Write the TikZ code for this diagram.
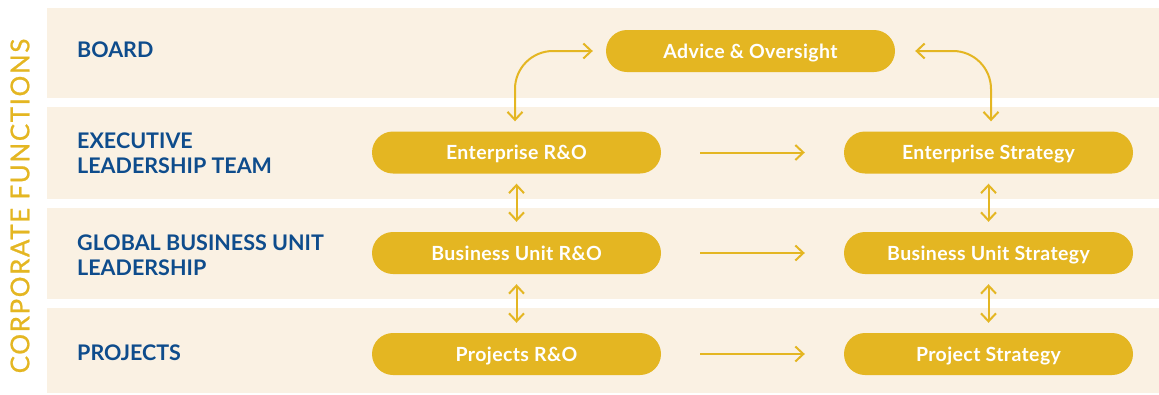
\documentclass[tikz,border=0pt]{standalone}
\usepackage{fontspec}
\setmainfont{Lato}
\usetikzlibrary{positioning, arrows.meta}

\definecolor{goldPill}{HTML}{E4B622}
\definecolor{creamBand}{HTML}{FAF1E3}
\definecolor{blueLabel}{HTML}{0E4C8C}

\begin{document}
\begin{tikzpicture}[
        x=1pt, y=-1pt,
        every node/.style={font=\bfseries},
        % Gold rounded boxes
        pill/.style={fill=goldPill, rounded corners=21pt, minimum width=289pt,
            minimum height=42pt, inner sep=0pt, text=white,
            text height=14pt, text depth=0pt,
            font=\bfseries\fontsize{19.5}{22}\selectfont\addfontfeatures{LetterSpace=2}},
        % Row titles on the left
        level/.style={text=blueLabel, anchor=west, align=left, inner sep=0pt,
            font=\bfseries\fontsize{21.5}{25}\selectfont},
        link/.style={draw=goldPill, line width=2pt,
            arrows={Straight Barb[length=8pt,width=15pt]-Straight Barb[length=8pt,width=15pt]}},
        flow/.style={draw=goldPill, line width=2pt,
            -{Straight Barb[length=8pt,width=15pt]}}
    ]
        % Column and row positions (in px of the reference)
        \def\leftX{516.5}
        \def\midX{750.5}
        \def\rightX{988.5}
        \def\rowA{51}
        \def\rowB{152.5}
        \def\rowC{253}
        \def\rowD{354}

        \useasboundingbox (0,0) rectangle (1159,394);

        % Background bands
        \fill[creamBand] (47,8) rectangle (1159,98);
        \fill[creamBand] (47,107) rectangle (1159,199);
        \fill[creamBand] (47,208) rectangle (1159,299);
        \fill[creamBand] (47,308) rectangle (1159,393);

        % Side title
        \node[rotate=90, text=goldPill, inner sep=0pt,
            font=\fontsize{26}{30}\selectfont\addfontfeatures{LetterSpace=6,FakeBold=0.8}]
            (corpTitle) at (20,206) {CORPORATE FUNCTIONS};

        % Row titles
        \node[level] (boardTitle) at (77,49.5) {BOARD};
        \node[level] (execTitle) at (77,153.5) {EXECUTIVE\\LEADERSHIP TEAM};
        \node[level] (gbuTitle) at (77,255) {GLOBAL BUSINESS UNIT\\LEADERSHIP};
        \node[level] (projTitle) at (77,352.5) {PROJECTS};

        % Boxes
        \node[pill] (advice) at (\midX,\rowA) {Advice \& Oversight};
        \node[pill] (entRO) at (\leftX,\rowB) {Enterprise R\&O};
        \node[pill] (entStrat) at (\rightX,\rowB) {Enterprise Strategy};
        \node[pill] (buRO) at (\leftX,\rowC) {Business Unit R\&O};
        \node[pill] (buStrat) at (\rightX,\rowC) {Business Unit Strategy};
        \node[pill] (projRO) at (\leftX,\rowD) {Projects R\&O};
        \node[pill] (projStrat) at (\rightX,\rowD) {Project Strategy};

        % Board links
        \draw[link, rounded corners=38pt] ([xshift=-13pt]advice.west) -| ([xshift=-1.5pt,yshift=10pt]entRO.north);
        \draw[link, rounded corners=38pt] ([xshift=20pt]advice.east) -| ([xshift=2.5pt,yshift=10pt]entStrat.north);

        % Vertical links
        \draw[link] ([yshift=-10pt]entRO.south) -- ([yshift=10pt]buRO.north);
        \draw[link] ([yshift=-10pt]buRO.south) -- ([yshift=10pt]projRO.north);
        \draw[link] ([yshift=-10pt]entStrat.south) -- ([yshift=10pt]buStrat.north);
        \draw[link] ([yshift=-10pt]buStrat.south) -- ([yshift=10pt]projStrat.north);

        % R&O to strategy
        \draw[flow] ([xshift=39pt]entRO.east) -- ([xshift=-39pt]entStrat.west);
        \draw[flow] ([xshift=39pt]buRO.east) -- ([xshift=-39pt]buStrat.west);
        \draw[flow] ([xshift=39pt]projRO.east) -- ([xshift=-39pt]projStrat.west);
    \end{tikzpicture}
\end{document}
